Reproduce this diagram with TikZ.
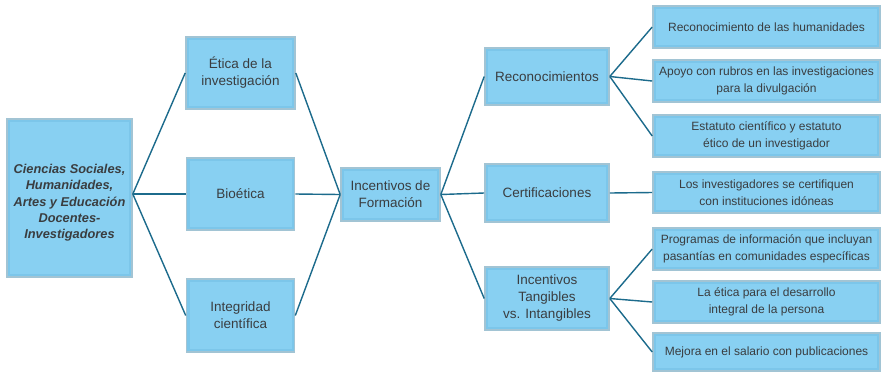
\documentclass[tikz,border=0pt]{standalone}
\usepackage{fontspec}
\setmainfont{Liberation Sans}
\definecolor{boxfill}{HTML}{88D0F2}
\definecolor{boxedge}{HTML}{A2C4D4}
\definecolor{boxglow}{HTML}{6FBCE2}
\definecolor{linkcol}{HTML}{1C6B8C}
\definecolor{txt}{HTML}{3A3D40}
\begin{document}
\begin{tikzpicture}[x=1pt,y=-1pt,
  box/.style={draw=boxedge, line width=1.6pt, fill=boxfill, text=txt,
    align=center, inner sep=0pt, anchor=center,
    path picture={\draw[boxglow, line width=3pt, opacity=0.45]
      ([xshift=1.5pt,yshift=-1.5pt]path picture bounding box.north west) rectangle
      ([xshift=-1.5pt,yshift=1.5pt]path picture bounding box.south east);}},
  midbox/.style={box, font=\fontsize{13.5}{17}\selectfont},
  leafbox/.style={box, minimum width=227pt, minimum height=42pt,
    font=\fontsize{12}{16.5}\selectfont},
  link/.style={draw=linkcol, line width=1.4pt}]
\useasboundingbox (0,0) rectangle (883,373);
\fill[white] (0,0) rectangle (883,373);

% root (the strut on the first line sets the text block a little lower)
\node[box, minimum width=125pt, minimum height=158pt,
  font=\fontsize{12.8}{16.2}\selectfont\bfseries\itshape] (root) at (69.5,198)
  {\rule{0pt}{19pt}Ciencias Sociales,\\Humanidades,\\Artes y Educación\\Docentes-\\Investigadores};

% first level
\node[midbox, minimum width=109pt, minimum height=72pt] (etica) at (240.5,73) {Ética de la\\investigación};
\node[midbox, minimum width=108pt, minimum height=72pt] (bio) at (240.5,194) {Bioética};
\node[midbox, minimum width=108pt, minimum height=73pt] (integ) at (240.5,315.5) {Integridad\\científica};

% centre
\node[midbox, minimum width=99pt, minimum height=53pt] (incf) at (390.5,194.5) {Incentivos de\\Formación};

% second level
\node[midbox, minimum width=124pt, minimum height=57pt] (recon) at (547,76.5) {Reconocimientos};
\node[midbox, minimum width=124pt, minimum height=58pt] (cert) at (547,193) {Certificaciones};
\node[midbox, minimum width=124pt, minimum height=63pt] (tang) at (547,298.5) {Incentivos\\Tangibles\\vs. Intangibles};

% leaves
\node[leafbox] (r1) at (766.5,27) {Reconocimiento de las humanidades};
\node[leafbox] (r2) at (766.5,81) {Apoyo con rubros en las investigaciones\\para la divulgación};
\node[leafbox] (r3) at (766.5,136) {Estatuto científico y estatuto\\ético de un investigador};
\node[leafbox, minimum height=41pt] (c1) at (766.5,192.5) {Los investigadores se certifiquen\\con instituciones idóneas};
\node[leafbox] (t1) at (766.5,249) {Programas de información que incluyan\\pasantías en comunidades específicas};
\node[leafbox] (t2) at (766.5,302) {La ética para el desarrollo\\integral de la persona};
\node[leafbox, minimum height=38pt] (t3) at (766.5,352) {Mejora en el salario con publicaciones};

% connectors
\foreach \n in {etica,bio,integ}{
  \draw[link] ([yshift=4pt]root.east) -- (\n.west);
  \draw[link] (\n.east) -- (incf.west);
}
\foreach \n in {recon,cert,tang}{
  \draw[link] (incf.east) -- (\n.west);
}
\foreach \n in {r1,r2,r3}{ \draw[link] (recon.east) -- (\n.west); }
\draw[link] (cert.east) -- (c1.west);
\foreach \n in {t1,t2,t3}{ \draw[link] (tang.east) -- (\n.west); }
\end{tikzpicture}
\end{document}
